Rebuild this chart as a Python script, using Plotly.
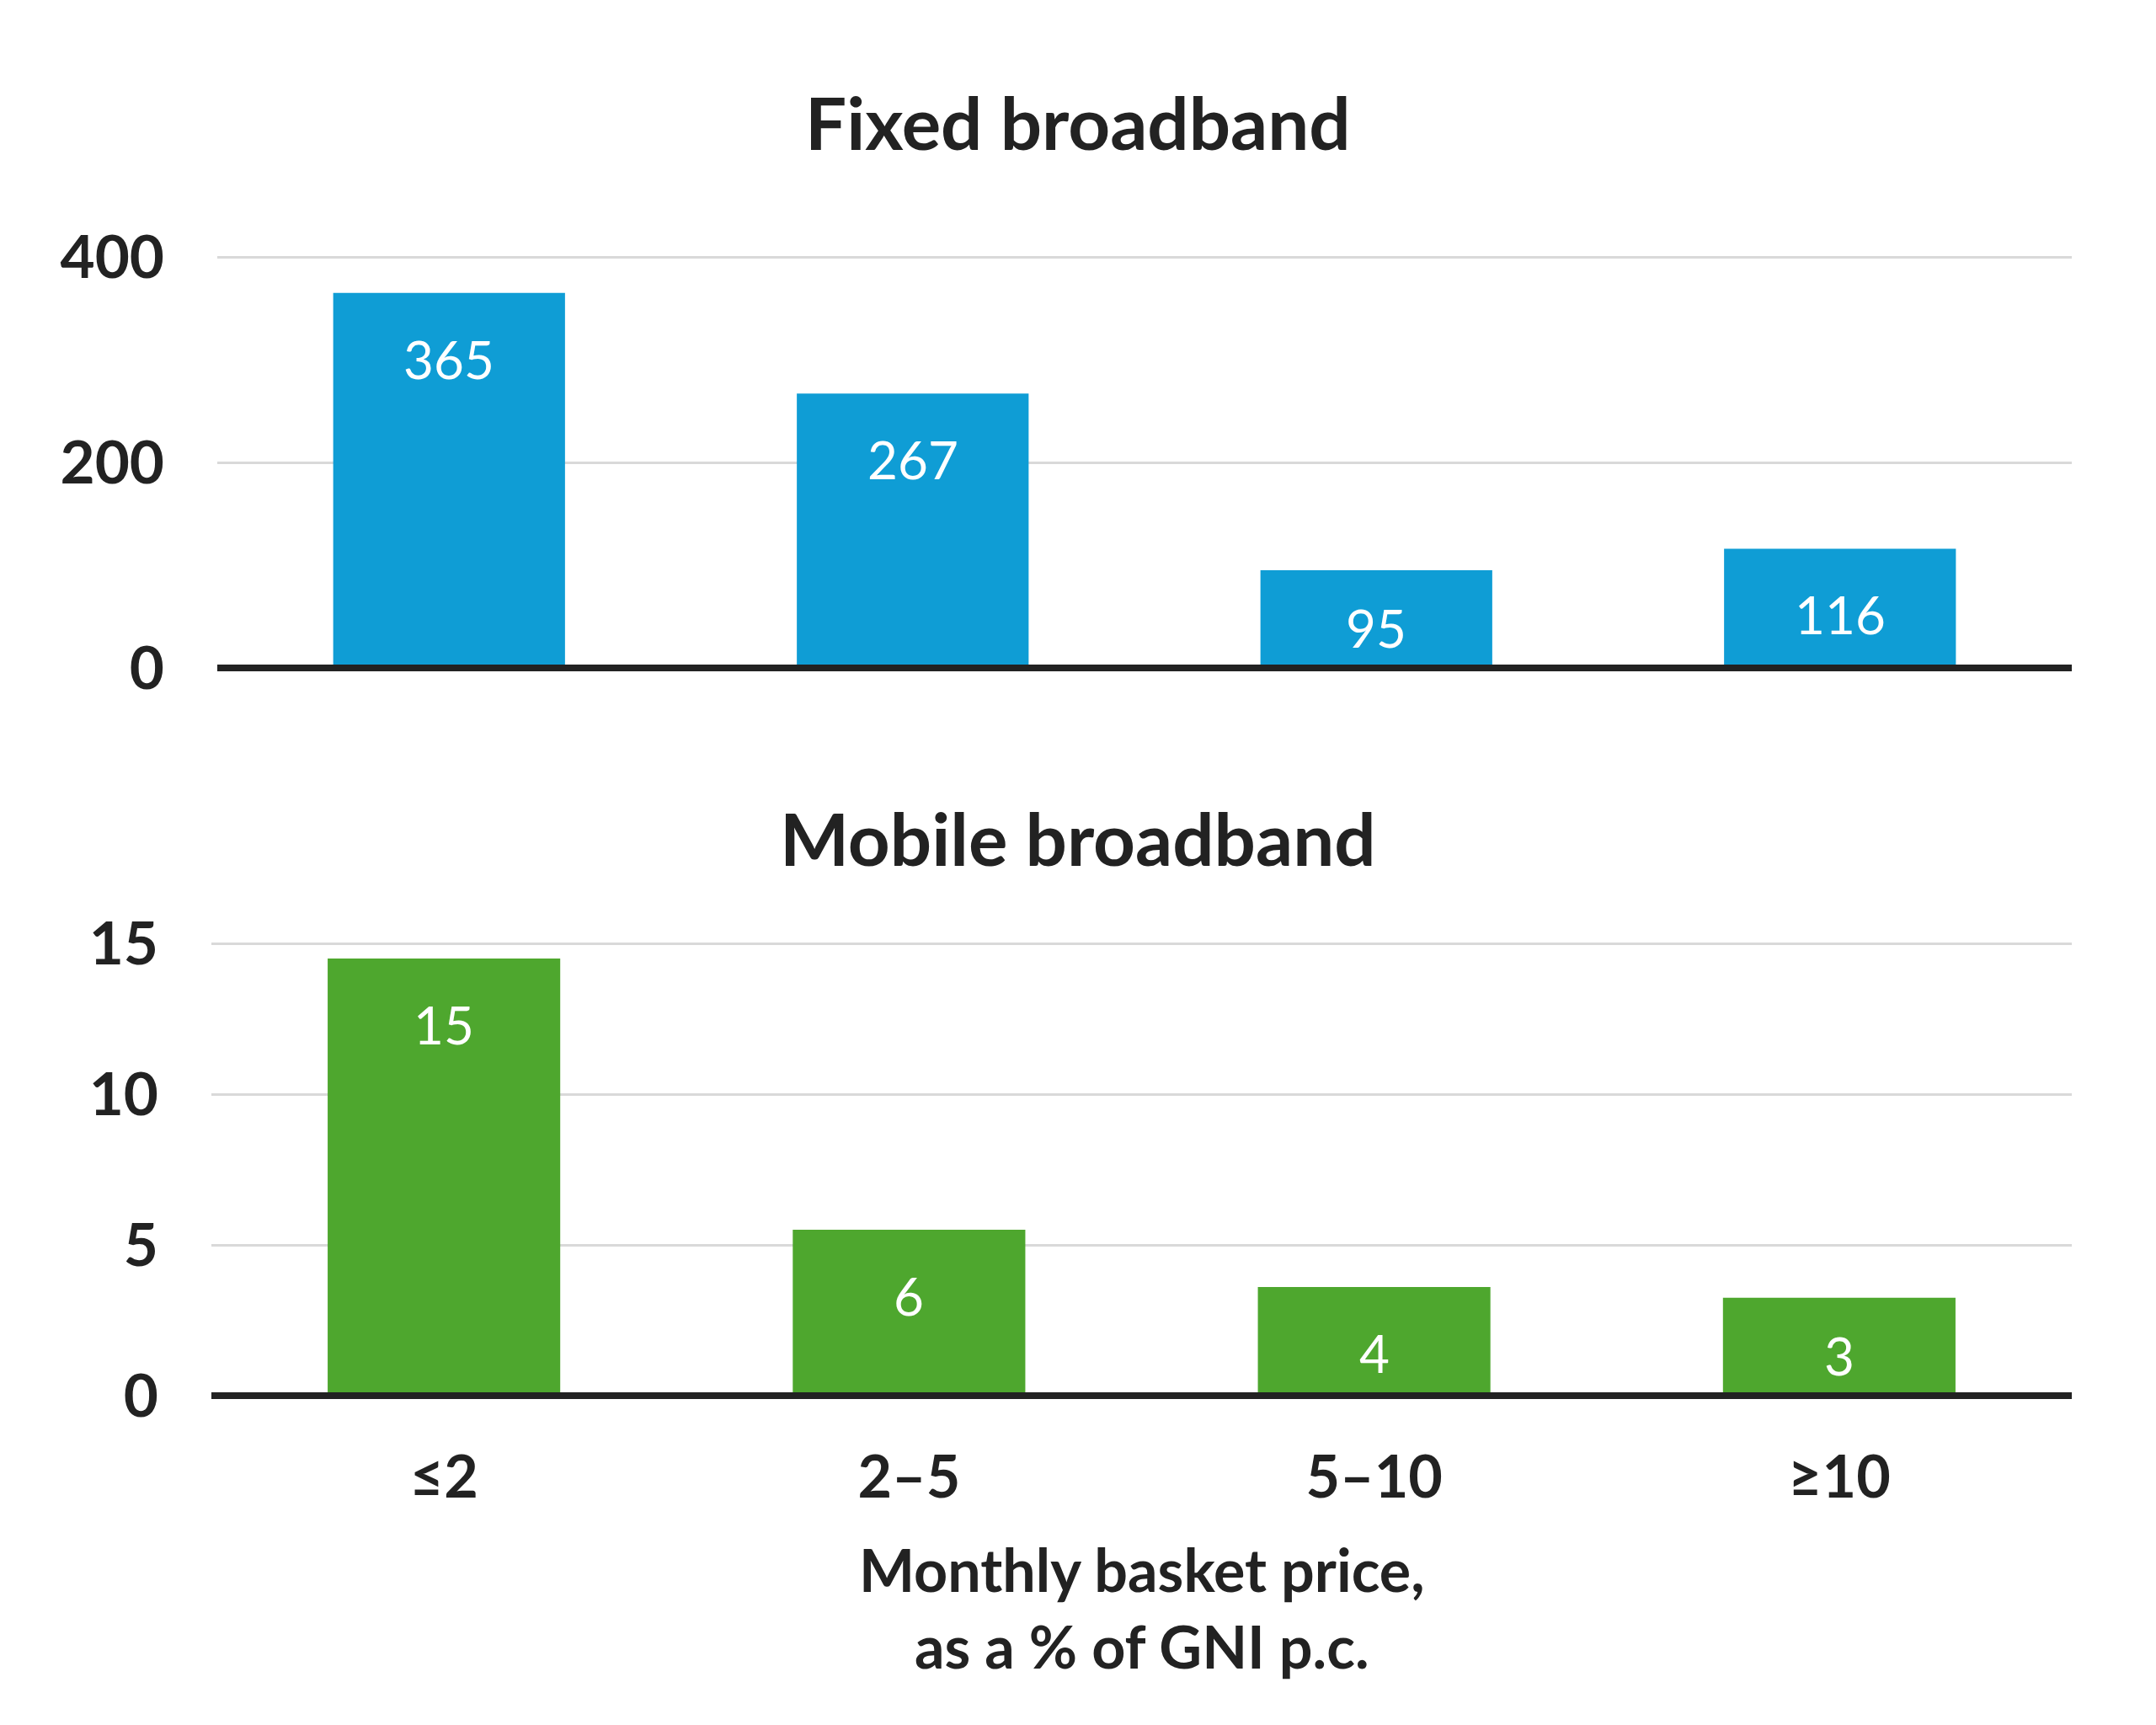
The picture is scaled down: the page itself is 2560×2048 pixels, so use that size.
import plotly.graph_objects as go

categories = ["≤2", "2–5", "5–10", "≥10"]
fixed_values = [365, 267, 95, 116]
fixed_labels = ["365", "267", "95", "116"]
mobile_values = [14.5, 5.5, 3.6, 3.25]
mobile_labels = ["15", "6", "4", "3"]
fixed_ticks = [0, 200, 400]
mobile_ticks = [0, 5, 10, 15]
fixed_max = 400
mobile_max = 15

W, H = 2560, 2048
FONT = "Lato"
DARK = "#222222"
BLUE = "#0f9dd5"
GREEN = "#4ea72e"

# pixel positions of (top tick, zero) for each panel
top_px = (305, 793)
bot_px = (1120, 1657)
top_x = (258, 2460)
bot_x = (251, 2460)
EXTRA_TOP_PX = 3   # small headroom so the top gridline is drawn
EXTRA_BOT_PX = 8   # room below zero so the thick baseline is not clipped


def layout_for(px, vmax):
    ppu = (px[1] - px[0]) / vmax
    top_pixel = px[0] - EXTRA_TOP_PX
    bot_pixel = px[1] + EXTRA_BOT_PX
    dom = [1 - bot_pixel / H, 1 - top_pixel / H]
    rng = [-EXTRA_BOT_PX / ppu, vmax + EXTRA_TOP_PX / ppu]
    return ppu, dom, rng


top_ppu, top_dom, top_rng = layout_for(top_px, fixed_max)
bot_ppu, bot_dom, bot_rng = layout_for(bot_px, mobile_max)


def xdom(p):
    return [p[0] / W, p[1] / W]


fig = go.Figure()
fig.add_trace(go.Bar(x=categories, y=fixed_values, marker_color=BLUE,
                     marker_line_width=0, xaxis="x", yaxis="y", hoverinfo="skip"))
fig.add_trace(go.Bar(x=categories, y=mobile_values, marker_color=GREEN,
                     marker_line_width=0, xaxis="x2", yaxis="y2", hoverinfo="skip"))

annotations = []


def add_labels(vals, labels, yref, xref, ppu):
    for c, v, t in zip(categories, vals, labels):
        bar_px = v * ppu
        off = min(78, bar_px - 48)
        annotations.append(dict(x=c, y=v, xref=xref, yref=yref, text=t,
                                showarrow=False, yanchor="middle", yshift=-off,
                                font=dict(family=FONT, size=62, color="white", weight=400)))


add_labels(fixed_values, fixed_labels, "y", "x", top_ppu)
add_labels(mobile_values, mobile_labels, "y2", "x2", bot_ppu)

annotations.append(dict(text="<b>Fixed broadband</b>", x=0.5, y=1 - 144 / H, xref="paper", yref="paper",
                        showarrow=False, yanchor="middle", xanchor="center",
                        font=dict(family=FONT, size=87, color=DARK)))
annotations.append(dict(text="<b>Mobile broadband</b>", x=0.5, y=1 - 994 / H, xref="paper", yref="paper",
                        showarrow=False, yanchor="middle", xanchor="center",
                        font=dict(family=FONT, size=87, color=DARK)))
annotations.append(dict(text="Monthly basket price,<br>as a % of GNI p.c.", x=(bot_x[0] + bot_x[1]) / 2 / W,
                        y=1 - 1908 / H, xref="paper", yref="paper", showarrow=False,
                        yanchor="middle", xanchor="center",
                        font=dict(family=FONT, size=70, color=DARK, weight=700)))

shapes = [
    dict(type="line", xref="x domain", yref="y", x0=0, x1=1, y0=0, y1=0,
         line=dict(color=DARK, width=8), layer="above"),
    dict(type="line", xref="x2 domain", yref="y2", x0=0, x1=1, y0=0, y1=0,
         line=dict(color=DARK, width=8), layer="above"),
]

ytick_font = dict(family=FONT, size=71, color=DARK, weight=700)

fig.update_layout(
    template="none",
    width=W, height=H,
    margin=dict(l=0, r=0, t=0, b=0, pad=0),
    paper_bgcolor="white", plot_bgcolor="white",
    showlegend=False, bargap=0.5,
    annotations=annotations, shapes=shapes,
    xaxis=dict(domain=xdom(top_x), anchor="y", range=[-0.5, 3.5], showticklabels=False,
               showgrid=False, zeroline=False, showline=False, fixedrange=True, automargin=False),
    yaxis=dict(domain=top_dom, anchor="x", range=top_rng, tickvals=fixed_ticks,
               showgrid=True, gridcolor="#d9d9d9", gridwidth=3, zeroline=False, showline=False,
               tickfont=ytick_font, ticks="", ticklabelstandoff=62, automargin=False),
    xaxis2=dict(domain=xdom(bot_x), anchor="y2", range=[-0.5, 3.5],
                showgrid=False, zeroline=False, showline=False, ticks="",
                tickfont=dict(family=FONT, size=70, color=DARK, weight=700),
                ticklabelstandoff=42, automargin=False),
    yaxis2=dict(domain=bot_dom, anchor="x2", range=bot_rng, tickvals=mobile_ticks,
                showgrid=True, gridcolor="#d9d9d9", gridwidth=3, zeroline=False, showline=False,
                tickfont=ytick_font, ticks="", ticklabelstandoff=62, automargin=False),
)

fig.write_html("out.html", config={"displayModeBar": False},
               post_script="document.body.style.margin='0';")
